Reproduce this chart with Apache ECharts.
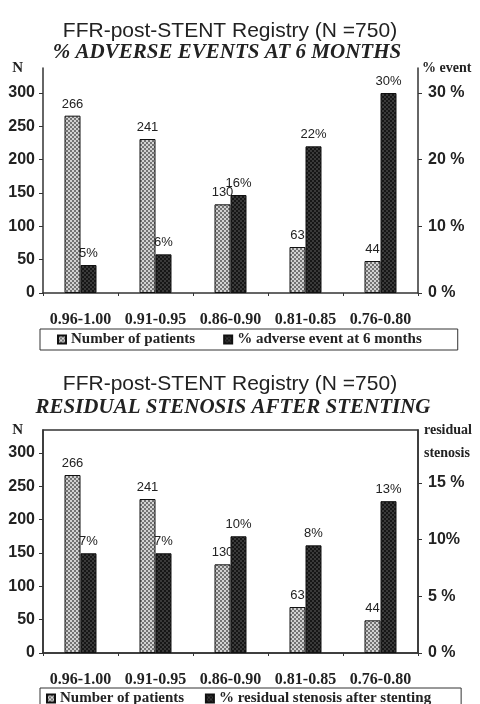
<!DOCTYPE html>
<html><head><meta charset="utf-8">
<script src="https://cdn.jsdelivr.net/npm/echarts@6/dist/echarts.min.js"></script>
<style>html,body{margin:0;padding:0;background:#fff}#c{width:480px;height:704px}</style>
</head><body><div id="c"></div>
<script>
// ---- data ----
const categories = ['0.96-1.00', '0.91-0.95', '0.86-0.90', '0.81-0.85', '0.76-0.80'];
// chart 1: adverse events at 6 months
const patients1 = [266, 231, 133, 69, 48];          // bar heights as drawn
const patients1Labels = ['266', '241', '130', '63', '44'];
const events1 = [4.2, 5.8, 14.7, 22, 30];            // % bar heights as drawn
const events1Labels = ['5%', '6%', '16%', '22%', '30%'];
// chart 2: residual stenosis after stenting
const patients2 = [267, 231, 133, 69, 49];
const patients2Labels = ['266', '241', '130', '63', '44'];
const stenosis2 = [8.8, 8.8, 10.3, 9.5, 13.4];
const stenosis2Labels = ['7%', '7%', '10%', '8%', '13%'];
// tick labels
const leftTicks = [0, 50, 100, 150, 200, 250, 300];
const right1Ticks = [0, 10, 20, 30];
const right1TickLabels = ['0 %', '10 %', '20 %', '30 %'];
const right2Ticks = [0, 5, 10, 15];
const right2TickLabels = ['0 %', '5 %', '10%', '15 %'];

function makePattern(bg, fg, cell) {
  const size = cell * 2;
  const c = document.createElement('canvas');
  c.width = size; c.height = size;
  const g = c.getContext('2d');
  g.fillStyle = bg; g.fillRect(0, 0, size, size);
  g.fillStyle = fg;
  g.fillRect(0, 0, cell, cell);
  g.fillRect(cell, cell, cell, cell);
  return c;
}
const lightPat = { image: makePattern('#d2d2d2', '#737373', 2), repeat: 'repeat' };
const darkPat = { image: makePattern('#161616', '#3a3a3a', 2), repeat: 'repeat' };

const SANS = 'Liberation Sans';
const SERIF = 'Liberation Serif';
const axisCol = '#333';

function leftAxis(gridIndex, max) {
  return {
    type: 'value', gridIndex, min: 0, max, position: 'left',
    name: 'N', nameLocation: 'end', nameGap: 0,
    nameTextStyle: { fontFamily: SERIF, fontWeight: 'bold', fontSize: 15, color: '#222', align: 'right', verticalAlign: 'middle', padding: [0, 20, 0, 0] },
    axisLine: { show: true, lineStyle: { color: axisCol, width: 1.5 } },
    axisTick: { show: true, length: 4, customValues: leftTicks, lineStyle: { color: axisCol } },
    axisLabel: { customValues: leftTicks, margin: 8, fontFamily: SANS, fontWeight: 'bold', fontSize: 16, color: '#222' },
    splitLine: { show: false }
  };
}
function rightAxis(gridIndex, max, ticks, tickLabels, name, nameStyle) {
  return {
    type: 'value', gridIndex, min: 0, max, position: 'right',
    name, nameLocation: 'end', nameGap: 0,
    nameTextStyle: Object.assign({ fontFamily: SERIF, fontWeight: 'bold', fontSize: 14, color: '#222', align: 'left' }, nameStyle),
    axisLine: { show: true, lineStyle: { color: axisCol, width: 1.5 } },
    axisTick: { show: true, length: 4, customValues: ticks, lineStyle: { color: axisCol } },
    axisLabel: { customValues: ticks, margin: 10, fontFamily: SANS, fontWeight: 'bold', fontSize: 16, color: '#222',
      formatter: v => tickLabels[ticks.indexOf(v)] },
    splitLine: { show: false }
  };
}
function catAxis(gridIndex) {
  return {
    type: 'category', gridIndex, data: categories,
    axisLine: { show: true, lineStyle: { color: axisCol, width: 1.5 } },
    axisTick: { show: true, length: 3, lineStyle: { color: axisCol } },
    axisLabel: { interval: 0, hideOverlap: false, margin: 19, fontFamily: SERIF, fontWeight: 'bold', fontSize: 16, color: '#222' }
  };
}
function barSeries(name, data, labels, xi, yi, pat) {
  return {
    type: 'bar', name, data, xAxisIndex: xi, yAxisIndex: yi,
    barWidth: 16, barGap: '0%',
    itemStyle: { color: pat, borderColor: '#111', borderWidth: 1 },
    label: { show: true, position: 'top', distance: 5, fontFamily: SANS, fontSize: 13, color: '#222',
      formatter: p => labels[p.dataIndex] }
  };
}
const legendText = { fontFamily: SERIF, fontWeight: 'bold', fontSize: 15, color: '#222' };

const chart = echarts.init(document.getElementById('c'), null, { renderer: 'canvas' });
chart.setOption({
  animation: false,
  backgroundColor: '#fff',
  title: [
    { text: 'FFR-post-STENT Registry (N =750)', left: 225, top: 16, textAlign: 'center',
      textStyle: { fontFamily: SANS, fontWeight: 'normal', fontSize: 21, color: '#222' } },
    { text: '% ADVERSE EVENTS AT 6 MONTHS', left: 222, top: 37, textAlign: 'center',
      textStyle: { fontFamily: SERIF, fontStyle: 'italic', fontWeight: 'bold', fontSize: 21, color: '#222' } },
    { text: 'FFR-post-STENT Registry (N =750)', left: 225, top: 369, textAlign: 'center',
      textStyle: { fontFamily: SANS, fontWeight: 'normal', fontSize: 21, color: '#222' } },
    { text: 'RESIDUAL STENOSIS AFTER STENTING', left: 228, top: 392, textAlign: 'center',
      textStyle: { fontFamily: SERIF, fontStyle: 'italic', fontWeight: 'bold', fontSize: 21, color: '#222' } }
  ],
  legend: [
    { data: ['Number of patients', '% adverse event at 6 months'], left: 40, top: 329,
      icon: 'rect', itemWidth: 8, itemHeight: 8, itemGap: 28, padding: [3, 36, 3, 17],
      borderColor: '#333', borderWidth: 1, textStyle: legendText },
    { data: ['Number of patients ', '% residual stenosis after stenting'], left: 40, top: 688,
      icon: 'rect', itemWidth: 8, itemHeight: 8, itemGap: 17, padding: [3, 30, 3, 6],
      borderColor: '#333', borderWidth: 1, textStyle: legendText }
  ],
  grid: [
    { left: 43, right: 62, top: 68, height: 225 },
    { left: 43, right: 62, top: 430, height: 223, show: true, borderColor: axisCol, borderWidth: 1.5, backgroundColor: 'transparent' }
  ],
  xAxis: [catAxis(0), catAxis(1)],
  yAxis: [
    leftAxis(0, 337.5),
    rightAxis(0, 33.75, right1Ticks, right1TickLabels, '% event', { verticalAlign: 'middle', padding: [0, 0, 0, 4] }),
    leftAxis(1, 334.5),
    rightAxis(1, 19.68, right2Ticks, right2TickLabels, 'residual\nstenosis', { verticalAlign: 'top', lineHeight: 23, padding: [-11, 0, 0, 6] })
  ],
  series: [
    barSeries('Number of patients', patients1, patients1Labels, 0, 0, lightPat),
    barSeries('% adverse event at 6 months', events1, events1Labels, 0, 1, darkPat),
    barSeries('Number of patients ', patients2, patients2Labels, 1, 2, lightPat),
    barSeries('% residual stenosis after stenting', stenosis2, stenosis2Labels, 1, 3, darkPat)
  ]
});
</script></body></html>
